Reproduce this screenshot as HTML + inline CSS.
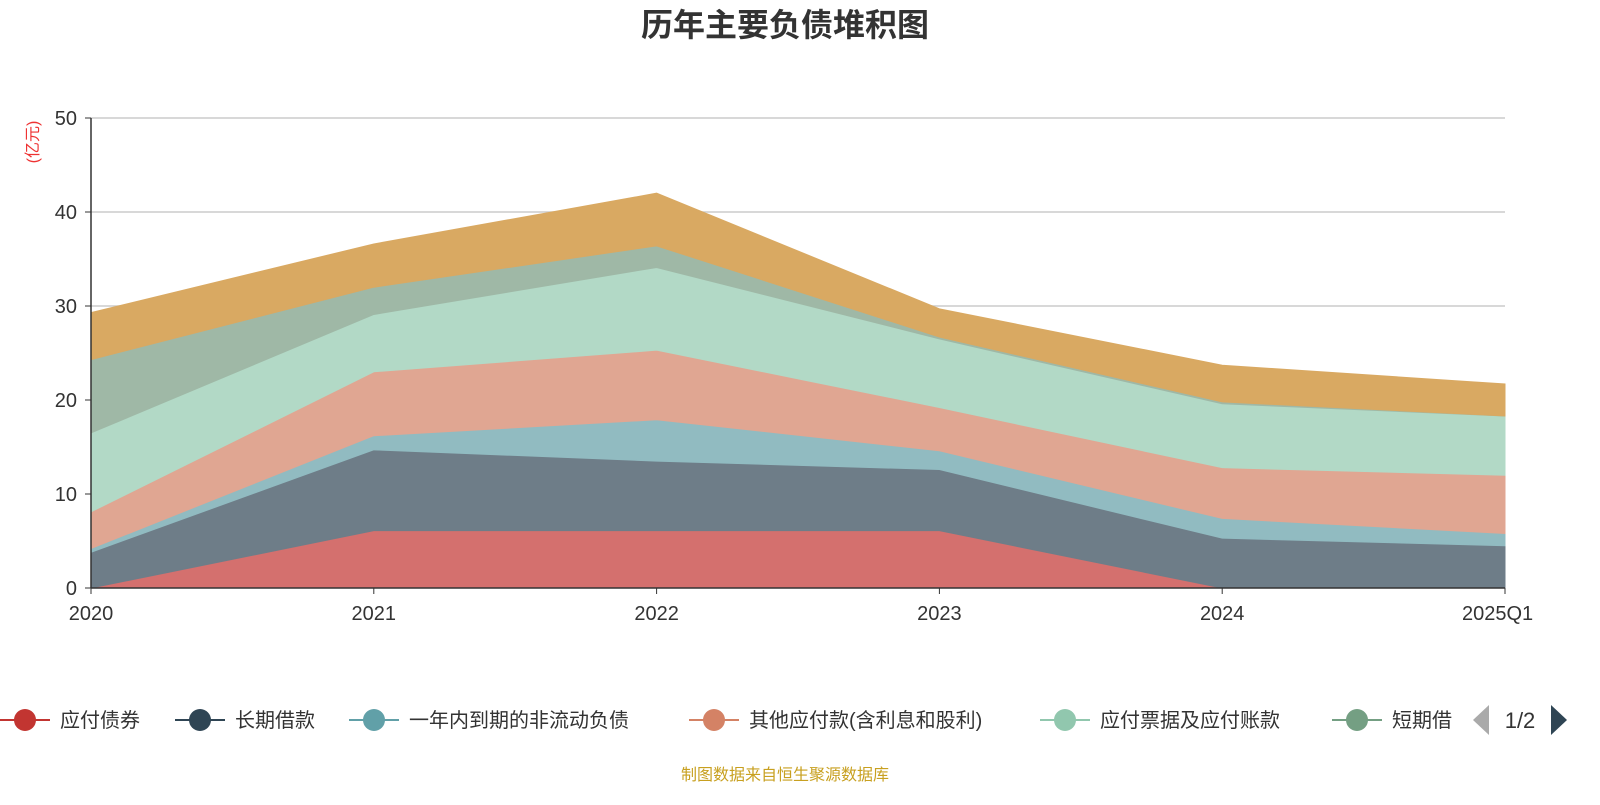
<!DOCTYPE html>
<html><head><meta charset="utf-8"><style>
body{margin:0;background:#fff;width:1600px;height:800px;overflow:hidden;font-family:"Liberation Sans","Noto Sans CJK SC",sans-serif}
</style></head><body>
<svg id="c" width="1600" height="800" xmlns="http://www.w3.org/2000/svg" font-family="Liberation Sans, Noto Sans CJK SC, sans-serif">
<text x="785" y="36" text-anchor="middle" font-size="32" font-weight="bold" fill="#333">历年主要负债堆积图</text>
<text transform="translate(38,142) rotate(-90)" text-anchor="middle" font-size="16" fill="#e33">(亿元)</text>
<g id="grid"></g><g id="areas"></g><g id="axes"></g><g id="legend"></g>
<text x="785" y="780" text-anchor="middle" font-size="16" fill="#c8a020">制图数据来自恒生聚源数据库</text>
</svg>
<script>
const categories=["2020","2021","2022","2023","2024","2025Q1"];
const seriesNames=["应付债券","长期借款","一年内到期的非流动负债","其他应付款(含利息和股利)","应付票据及应付账款","短期借款","合同负债"];
const s1=[0,6.1,6.1,6.1,0,0];
const s2=[3.8,8.6,7.4,6.5,5.3,4.5];
const s3=[0.4,1.5,4.4,2.0,2.1,1.3];
const s4=[3.9,6.8,7.4,4.6,5.4,6.2];
const s5=[8.4,6.1,8.8,7.3,6.8,6.3];
const s6=[7.8,2.9,2.3,0.2,0.2,0];
const s7=[5.0,4.6,5.6,3.0,3.9,3.4];
const yTicks=[0,10,20,30,40,50];
const series=[s1,s2,s3,s4,s5,s6,s7];
const fills=["#d4706e","#6e7d88","#91bbc1","#e0a692","#b2d9c6","#9fb8a6","#d9a962"];
const legendColors=["#c23531","#2f4554","#61a0a8","#d48265","#91c7ae","#749f83"];
const X0=91,X1=1505,Y0=588,Y1=118;
const x=i=>X0+(X1-X0)*i/(categories.length-1);
const y=v=>Y0-(Y0-Y1)*v/50;
const NS="http://www.w3.org/2000/svg";
function mk(t,a,p){const e=document.createElementNS(NS,t);for(const k in a)e.setAttribute(k,a[k]);p.appendChild(e);return e;}
const grid=document.getElementById('grid'),axes=document.getElementById('axes'),areas=document.getElementById('areas'),leg=document.getElementById('legend');
yTicks.forEach(t=>{
 if(t>0){const l=mk('line',{x1:X0,x2:X1,y1:y(t),y2:y(t),stroke:'#ccc','stroke-width':1.5},grid);
 
 }
 const tx=mk('text',{x:X0-14,y:y(t)+7,'text-anchor':'end','font-size':20,fill:'#333'},axes);tx.textContent=t;
 
 
 mk('line',{x1:X0-6,x2:X0,y1:y(t),y2:y(t),stroke:'#333'},axes);
});
let base=categories.map(()=>0);
series.forEach((s,k)=>{
 const top=base.map((b,i)=>b+s[i]);
 let d='M'+top.map((v,i)=>x(i)+','+y(v)).join('L');
 for(let i=categories.length-1;i>=0;i--)d+='L'+x(i)+','+y(base[i]);
 const p=mk('path',{d:d+'Z',fill:fills[k],stroke:fills[k],'stroke-width':1},areas);
 
 
 base=top;
});
mk('line',{x1:X0,x2:X0,y1:Y1,y2:Y0,stroke:'#333','stroke-width':1.5},axes);
mk('line',{x1:X0,x2:X1,y1:Y0,y2:Y0,stroke:'#333','stroke-width':1.5},axes);
categories.forEach((c,i)=>{
 mk('line',{x1:x(i),x2:x(i),y1:Y0,y2:Y0+6,stroke:'#333'},axes);
 const t=mk('text',{x:i==categories.length-1?x(i)-2:x(i),y:Y0+32,'text-anchor':i==categories.length-1?'start':'middle','font-size':20,fill:'#333'},axes);
 if(i==categories.length-1){t.setAttribute('x',x(i)-43);}
 t.textContent=c;
 
 
});
const lx=[0,175,349,689,1040,1332];
const clipText=["应付债券","长期借款","一年内到期的非流动负债","其他应付款(含利息和股利)","应付票据及应付账款","短期借"];
lx.forEach((px,i)=>{
 const g=mk('g',{},leg);
 
 
 mk('line',{x1:px,x2:px+50,y1:720,y2:720,stroke:legendColors[i],'stroke-width':2},g);
 mk('circle',{cx:px+25,cy:720,r:11,fill:legendColors[i]},g);
 const t=mk('text',{x:px+60,y:727,'font-size':20,fill:'#333'},g);t.textContent=clipText[i];
});
const pl=mk('path',{d:'M1473,720L1489,705L1489,735Z',fill:'#aaa'},leg);


const pt=mk('text',{x:1520,y:728,'text-anchor':'middle','font-size':22,fill:'#333'},leg);pt.textContent='1/2';


const pn=mk('path',{d:'M1551,705L1567,720L1551,735Z',fill:'#2f4554'},leg);


</script>
</body></html>
